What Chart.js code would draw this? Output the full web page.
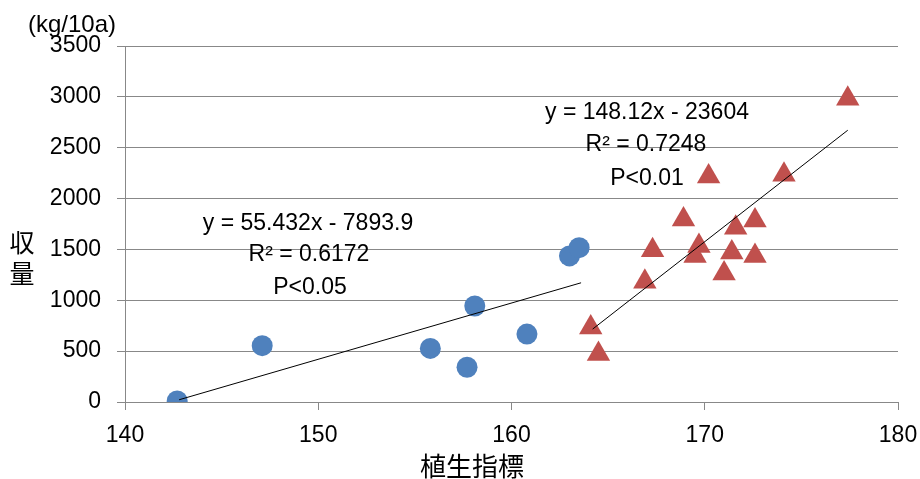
<!DOCTYPE html>
<html>
<head>
<meta charset="utf-8">
<script src="https://cdn.jsdelivr.net/npm/chart.js@4.4.1/dist/chart.umd.min.js"></script>
<style>
  html, body { margin: 0; padding: 0; background: #fff; }
  #wrap { width: 920px; height: 479px; position: relative; }
</style>
</head>
<body>
<div id="wrap"><canvas id="c"></canvas></div>
<script>
// ── data ────────────────────────────────────────────────────────────────────
const blueX = [142.7, 147.1, 155.8, 157.7, 158.1, 160.8, 163.0, 163.5];
const blueY = [10, 554, 527, 342, 944, 668, 1436, 1517];

const redX = [177.4, 170.2, 174.1, 168.9, 172.6, 171.6, 169.7, 169.5, 167.3, 171.4, 172.6, 171.0, 166.9, 164.1, 164.5];
const redY = [2982, 2217, 2233, 1794, 1784, 1713, 1533, 1436, 1491, 1469, 1436, 1263, 1182, 733, 472];

// trend line end points
const blueTrendX = [142.8, 163.6];
const blueTrendY = [22, 1172];
const redTrendX = [164.2, 177.4];
const redTrendY = [717, 2672];

const xTicks = [140, 150, 160, 170, 180];
const yTicks = [0, 500, 1000, 1500, 2000, 2500, 3000, 3500];

const blueText = ['y = 55.432x - 7893.9', 'R² = 0.6172', 'P<0.05'];
const redText = ['y = 148.12x - 23604', 'R² = 0.7248', 'P<0.01'];

const pts = (xs, ys) => xs.map((x, i) => ({ x, y: ys[i] }));

const LATIN = "'Liberation Sans', Arial, sans-serif";
const CJK = "'Noto Sans CJK JP', sans-serif";

// ── text labels (equations, axis titles, unit) ─────────────────────────────
const textPlugin = {
  id: 'texts',
  afterDatasetsDraw(chart) {
    const ctx = chart.ctx;
    ctx.save();
    ctx.fillStyle = '#000';
    ctx.textAlign = 'center';
    ctx.textBaseline = 'middle';
    ctx.font = `23px ${LATIN}`;
    const bPos = [[308, 224], [309, 255], [310, 288]];
    blueText.forEach((t, i) => ctx.fillText(t, bPos[i][0], bPos[i][1]));
    const rPos = [[647, 113], [646, 145], [647, 179]];
    redText.forEach((t, i) => ctx.fillText(t, rPos[i][0], rPos[i][1]));

    ctx.font = `24px ${LATIN}`;
    ctx.fillText('(kg/10a)', 72, 25);

    ctx.font = `25px ${CJK}`;
    ctx.fillText('収', 22, 242);
    ctx.fillText('量', 22, 273);
    ctx.font = `26px ${CJK}`;
    ctx.fillText('植生指標', 472, 466);
    ctx.restore();
  }
};

const lineDs = (xs, ys) => ({
  type: 'line', data: pts(xs, ys), showLine: true, borderColor: '#000', borderWidth: 1,
  pointRadius: 0, fill: false, tension: 0
});

new Chart(document.getElementById('c').getContext('2d'), {
  type: 'scatter',
  data: {
    datasets: [
      lineDs(blueTrendX, blueTrendY),
      lineDs(redTrendX, redTrendY),
      { data: pts(blueX, blueY), pointStyle: 'circle', pointRadius: 10.5, backgroundColor: '#4F81BD', borderWidth: 0 },
      { data: pts(redX, redY), pointStyle: 'triangle', pointRadius: 13.5, backgroundColor: '#C0504D', borderWidth: 0 }
    ]
  },
  options: {
    responsive: true, maintainAspectRatio: false, animation: false,
    layout: { padding: { top: 46, right: 22, bottom: 0, left: 0 } },
    plugins: { legend: { display: false }, tooltip: { enabled: false } },
    scales: {
      x: {
        type: 'linear', min: 140, max: 180,
        afterFit: s => { s.height = 77; s.paddingLeft = 0; s.paddingRight = 0; },
        afterBuildTicks: s => { s.ticks = xTicks.map(v => ({ value: v })); },
        grid: { drawOnChartArea: false, drawTicks: true, tickLength: 8, color: '#888' },
        border: { color: '#888', width: 1 },
        ticks: { color: '#000', font: { family: LATIN, size: 23 }, padding: 12, callback: v => String(v) }
      },
      y: {
        min: 0, max: 3500,
        afterFit: s => { s.width = 125; },
        afterBuildTicks: s => { s.ticks = yTicks.map(v => ({ value: v })); },
        grid: { color: '#888', lineWidth: 1, tickLength: 8 },
        border: { color: '#888', width: 1 },
        ticks: { color: '#000', font: { family: LATIN, size: 23 }, padding: 16, callback: v => String(v) }
      }
    }
  },
  plugins: [textPlugin]
});
</script>
</body>
</html>
